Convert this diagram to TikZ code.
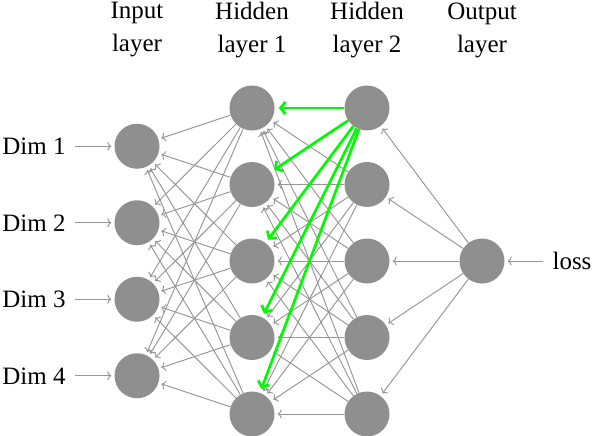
\documentclass[tikz,border=0pt]{standalone}
\usepackage{fontspec}
\setmainfont{Liberation Serif}
\usetikzlibrary{arrows.meta}

\definecolor{unitgray}{RGB}{143,143,143}
\definecolor{wiregray}{RGB}{150,150,150}
\definecolor{gradgreen}{RGB}{0,250,0}

\tikzset{
  unit/.style={circle, fill=unitgray, minimum size=45pt, inner sep=0pt},
  wire/.style={draw=wiregray, line width=0.95pt, -{To[length=4pt,width=9pt]}, shorten >=3pt},
  grad/.style={draw=gradgreen, line width=2.7pt, -{Straight Barb[length=5pt,width=12pt]}, shorten >=4pt},
  layername/.style={align=center}
}

\begin{document}
\begin{tikzpicture}[x=1pt, y=-1pt, font=\fontsize{25}{33}\selectfont]
  \useasboundingbox (0,0) rectangle (592,436);

  % layer titles
  \node[layername] (tIn)  at (137, 30) {Input\\layer};
  \node[layername] (tHA)  at (252, 30) {Hidden\\layer 1};
  \node[layername] (tHB)  at (367, 30) {Hidden\\layer 2};
  \node[layername] (tOut) at (482, 30) {Output\\layer};

  % units
  \foreach \k in {1,...,4}
    \node[unit] (in\k) at (137, {261+76.5*(\k-2.5)}) {};
  \foreach \k in {1,...,5} {
    \node[unit] (hA\k) at (252, {261+76.5*(\k-3)}) {};
    \node[unit] (hB\k) at (367, {261+76.5*(\k-3)}) {};
  }
  \node[unit] (out) at (482, 261) {};

  % inputs and loss
  \foreach \k in {1,...,4} {
    \node (dim\k) at (34, {261+76.5*(\k-2.5)}) {Dim \k};
    \draw[wire, shorten <=6pt] (dim\k) -- (in\k);
  }
  \node (loss) at (572, 261) {loss};
  \draw[wire, shorten <=6pt] (loss) -- (out);

  % backward connections
  \foreach \k in {1,...,5}
    \draw[wire] (out) -- (hB\k);
  \foreach \j in {2,...,5}
    \foreach \i in {1,...,5}
      \draw[wire] (hB\j) -- (hA\i);
  \foreach \j in {1,...,5}
    \foreach \i in {1,...,4}
      \draw[wire] (hA\j) -- (in\i);

  % gradient from the top unit of hidden layer 2
  \foreach \i in {1,...,5}
    \draw[grad] (hB1) -- (hA\i);
\end{tikzpicture}
\end{document}
